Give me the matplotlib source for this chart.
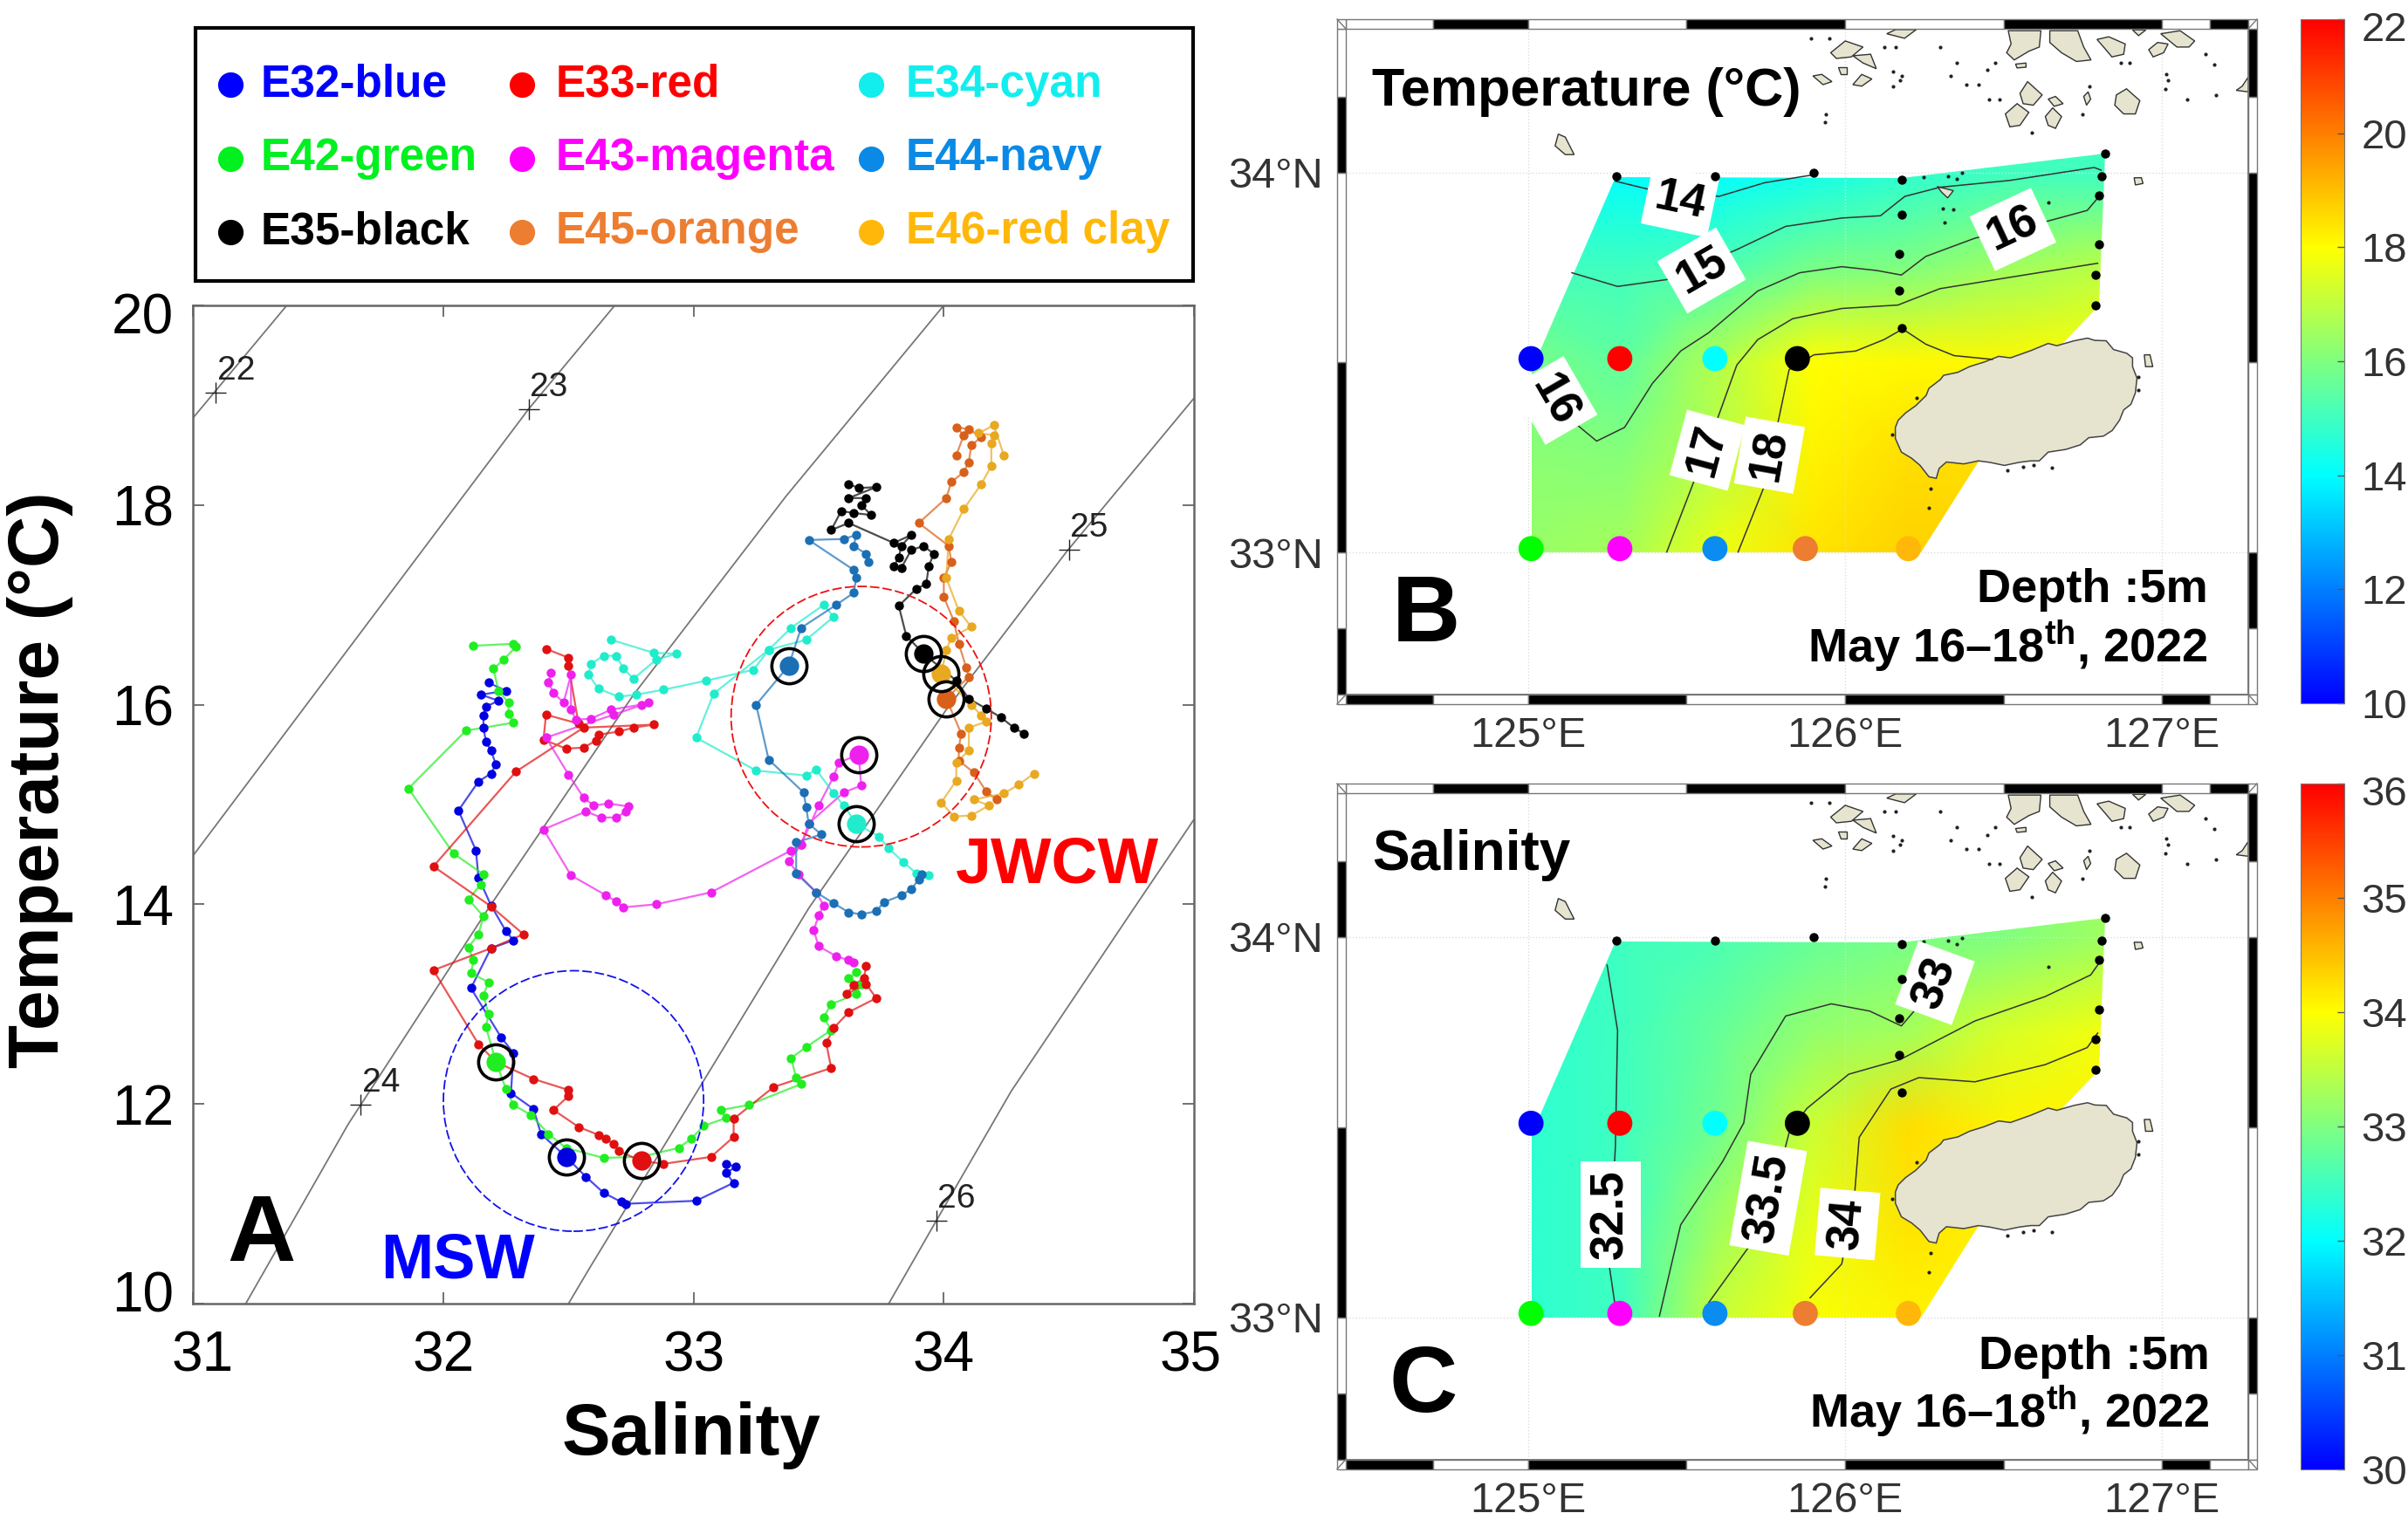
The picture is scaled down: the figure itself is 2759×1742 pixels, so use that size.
import matplotlib
matplotlib.use("Agg")
import matplotlib.pyplot as plt
from matplotlib.colors import LinearSegmentedColormap, Normalize
from matplotlib.patches import Ellipse, Polygon, Rectangle
from matplotlib.transforms import ScaledTranslation
import numpy as np

plt.rcParams['font.family'] = ['Liberation Sans', 'DejaVu Sans']
plt.rcParams['mathtext.fontset'] = 'custom'
plt.rcParams['mathtext.bf'] = 'Liberation Sans:bold'
plt.rcParams['mathtext.rm'] = 'Liberation Sans'

W, H = 2759, 1742

# ---- panel A: T-S tracks (salinity, temperature)
e32_s = [32.18,32.25,32.15,32.22,32.17,32.16,32.16,32.17,32.19,32.21,32.19,32.14,32.06,32.13,32.14,32.19,32.25,32.28,32.19,32.11,32.23,32.28,32.27,32.36,32.39,32.49,32.57,32.64,32.71,32.73,33.01,33.16,33.13,33.17,33.13]
e32_t = [16.22,16.14,16.10,16.04,15.98,15.89,15.77,15.63,15.54,15.40,15.31,15.23,14.94,14.54,14.27,13.99,13.73,13.64,13.56,13.16,12.67,12.51,12.11,11.95,11.70,11.47,11.27,11.11,11.02,11.00,11.03,11.21,11.31,11.37,11.40]

e42_s = [32.12,32.28,32.29,32.24,32.20,32.22,32.26,32.26,32.28,32.09,31.86,32.04,32.16,32.15,32.10,32.16,32.14,32.10,32.12,32.11,32.18,32.16,32.18,32.17,32.21,32.25,32.28,32.35,32.42,32.49,32.64,32.79,32.94,32.99,33.04,33.13,33.11,33.22,33.43,33.41,33.39,33.45,33.55,33.52,33.55,33.65,33.67,33.62,33.65]
e42_t = [16.59,16.61,16.58,16.45,16.36,16.14,16.02,15.91,15.82,15.74,15.16,14.51,14.30,14.20,14.05,13.88,13.70,13.57,13.44,13.31,13.22,13.09,12.90,12.77,12.42,12.15,11.99,11.89,11.70,11.56,11.46,11.47,11.56,11.65,11.78,11.86,11.94,11.99,12.20,12.26,12.46,12.57,12.74,12.87,13.00,13.10,13.20,13.26,13.32]

e33_s = [32.41,32.50,32.50,32.54,32.41,32.40,32.49,32.56,32.61,32.62,32.70,32.76,32.84,32.56,32.29,31.96,32.19,32.32,32.19,31.96,32.14,32.21,32.36,32.50,32.50,32.44,32.54,32.62,32.65,32.68,32.70,32.79,32.88,33.07,33.16,33.16,33.32,33.55,33.53,33.56,33.62,33.73,33.69,33.61,33.64,33.68,33.69]
e33_t = [16.56,16.47,16.39,15.81,15.90,15.65,15.56,15.57,15.64,15.70,15.73,15.77,15.80,15.77,15.33,14.38,13.98,13.70,13.56,13.34,12.60,12.42,12.25,12.14,12.08,11.94,11.77,11.69,11.65,11.60,11.53,11.43,11.40,11.47,11.67,11.85,12.17,12.36,12.61,12.76,12.92,13.06,13.20,13.10,13.19,13.26,13.38]

e43_s = [33.64,33.62,33.57,33.50,33.48,33.50,33.52,33.49,33.42,33.38,33.43,33.50,33.56,33.58,33.66,33.67,33.60,33.46,33.43,33.39,33.07,32.85,32.72,32.69,32.65,32.51,32.40,32.57,32.63,32.69,32.73,32.74,32.66,32.60,32.56,32.50,32.41,32.68,32.82,32.79,32.67,32.59,32.53,32.51,32.51,32.48,32.44,32.42,32.43]
e43_t = [13.42,13.44,13.48,13.58,13.74,13.89,13.99,14.12,14.30,14.43,14.60,14.99,15.28,15.42,15.50,15.19,15.12,14.81,14.60,14.54,14.12,14.00,13.97,14.03,14.09,14.29,14.75,14.93,14.87,14.87,14.93,14.98,15.01,14.99,15.07,15.30,15.67,15.90,16.02,16.00,15.95,15.86,15.85,15.95,16.30,16.02,16.12,16.22,16.32]

e34_s = [32.67,32.84,32.93,32.85,32.76,32.72,32.69,32.64,32.59,32.58,32.62,32.70,32.77,32.88,33.05,33.24,33.30,33.39,33.52,33.56,33.45,33.30,33.08,33.01,33.25,33.45,33.49,33.56,33.60,33.65,33.74,33.78,33.84,33.89,33.94]
e34_t = [16.65,16.52,16.51,16.45,16.26,16.36,16.49,16.49,16.41,16.30,16.16,16.08,16.10,16.15,16.24,16.35,16.55,16.77,17.00,16.88,16.65,16.55,16.11,15.67,15.34,15.29,15.35,15.11,14.99,14.81,14.68,14.56,14.42,14.31,14.29]

e44_s = [33.70,33.69,33.64,33.65,33.60,33.46,33.64,33.65,33.64,33.57,33.43,33.38,33.25,33.30,33.44,33.45,33.46,33.51,33.41,33.41,33.49,33.56,33.62,33.67,33.73,33.76,33.83,33.87,33.90,33.91]
e44_t = [17.43,17.51,17.59,17.70,17.66,17.65,17.35,17.27,17.12,17.00,16.77,16.39,16.00,15.45,15.12,14.97,14.81,14.70,14.62,14.31,14.12,14.01,13.92,13.90,13.93,14.02,14.09,14.15,14.25,14.30]

e35_s = [33.62,33.66,33.73,33.62,33.69,33.67,33.71,33.64,33.59,33.55,33.62,33.80,33.87,33.83,33.82,33.80,33.83,33.87,33.92,33.96,33.94,33.93,33.89,33.82,33.85,33.92,34.05,34.10,34.17,34.23,34.28,34.32]
e35_t = [18.21,18.17,18.18,18.07,18.07,18.00,17.90,17.92,17.94,17.75,17.82,17.62,17.70,17.59,17.47,17.39,17.37,17.55,17.59,17.51,17.39,17.21,17.16,16.99,16.69,16.51,16.24,16.06,15.96,15.87,15.77,15.71]

e45_s = [34.05,34.08,34.05,34.10,34.15,34.11,34.10,34.08,34.03,34.01,33.90,34.02,34.03,34.00,34.00,34.04,34.06,34.09,34.10,34.01,34.07,34.06,34.06,34.12,34.17,34.21]
e45_t = [18.50,18.70,18.78,18.76,18.68,18.60,18.43,18.33,18.23,18.07,17.82,17.59,17.43,17.27,17.08,16.84,16.61,16.37,16.28,16.06,15.71,15.57,15.44,15.32,15.13,15.05]

e46_s = [34.24,34.20,34.14,34.20,34.19,34.19,34.15,34.08,34.02,34.01,34.06,34.11,34.03,34.01,33.99,34.11,34.15,34.17,34.10,34.10,34.05,34.05,33.99,34.04,34.11,34.18,34.12,34.24,34.30,34.36]
e46_t = [18.50,18.80,18.72,18.70,18.62,18.39,18.21,17.96,17.66,17.27,16.94,16.78,16.67,16.55,16.31,16.00,15.89,15.83,15.77,15.54,15.42,15.24,15.02,14.88,14.89,14.99,15.05,15.11,15.20,15.31]

# 5 m values, the big ringed dots
surf_names = ['E32', 'E33', 'E34', 'E42', 'E43', 'E44', 'E35', 'E45', 'E46']
surf_s = [32.49, 32.79, 33.65, 32.21, 33.66, 33.38, 33.92, 34.01, 33.99]
surf_t = [11.47, 11.43, 14.81, 12.42, 15.50, 16.39, 16.51, 16.06, 16.31]
track_col = {'E32': '#0000e0', 'E33': '#e01010', 'E34': '#20eccc', 'E42': '#20ee20', 'E43': '#ee20ee',
             'E44': '#1b6fb5', 'E35': '#000000', 'E45': '#d8601a', 'E46': '#e8a820'}
tracks = {'E32': (e32_s, e32_t), 'E42': (e42_s, e42_t), 'E33': (e33_s, e33_t), 'E43': (e43_s, e43_t),
          'E34': (e34_s, e34_t), 'E44': (e44_s, e44_t), 'E45': (e45_s, e45_t), 'E46': (e46_s, e46_t),
          'E35': (e35_s, e35_t)}

# isopycnals
sig22_s, sig22_t = [31.0, 31.374], [18.875, 20.0]
sig23_s, sig23_t = [31.0, 32.34, 32.685], [14.49, 18.96, 20.0]
sig24_s, sig24_t = [31.21, 31.62, 32.18, 32.76, 33.37, 34.0], [10.0, 11.8, 13.96, 16.10, 18.09, 20.0]
sig25_s, sig25_t = [32.50, 32.59, 33.46, 34.01, 34.49, 35.0], [10.0, 10.38, 13.96, 15.95, 17.53, 19.07]
sig26_s, sig26_t = [33.78, 33.97, 34.27, 34.76, 35.0], [10.0, 10.83, 12.13, 13.96, 14.85]
sig_lab = ['22', '23', '24', '25', '26']
sig_lab_s = [31.09, 32.34, 31.67, 34.50, 33.97]
sig_lab_t = [19.13, 18.96, 11.99, 17.55, 10.83]

legend_names = ['E32-blue', 'E33-red', 'E34-cyan', 'E42-green', 'E43-magenta', 'E44-navy', 'E35-black', 'E45-orange', 'E46-red clay']
legend_cols = ['#0000ff', '#ff0000', '#12eeee', '#00f020', '#ff00ff', '#0a8ae6', '#000000', '#ed7d31', '#ffb80a']

# ---- panels B and C: maps
grid_lon = [124.9, 125.3, 125.6, 125.9, 126.2, 126.5, 126.9]
grid_lat = [33.0, 33.25, 33.5, 33.75, 34.0, 34.06]
temp_grid = [[16.3, 16.6, 17.7, 18.4, 18.7, 18.7, 18.6],
             [16.2, 16.1, 16.9, 18.2, 18.5, 18.5, 18.4],
             [16.0, 15.5, 16.8, 18.0, 18.1, 18.1, 18.0],
             [15.0, 15.0, 15.2, 15.9, 16.0, 16.5, 17.0],
             [14.3, 14.0, 14.0, 14.3, 14.7, 15.0, 15.0],
             [14.3, 14.0, 14.1, 14.4, 14.8, 15.1, 15.0]]
salt_grid = [[32.3, 32.5, 33.55, 33.95, 34.1, 34.1, 34.1],
             [32.3, 32.5, 33.25, 33.8, 34.2, 34.1, 34.1],
             [32.3, 32.5, 32.9, 33.6, 34.25, 34.1, 34.1],
             [32.3, 32.5, 32.8, 33.15, 33.3, 33.7, 33.95],
             [32.3, 32.5, 32.6, 32.8, 32.95, 33.0, 33.3],
             [32.3, 32.5, 32.6, 32.8, 32.95, 33.0, 33.3]]

field_lon = [125.276, 126.18, 126.82, 126.80, 126.686, 126.41, 126.24, 125.013, 125.013]
field_lat = [33.988, 33.985, 34.05, 33.65, 33.55, 33.226, 33.0, 33.0, 33.48]

stn_lon = [125.28, 125.59, 125.90, 126.18, 126.18, 126.17, 126.17, 126.18, 126.82, 126.81, 126.80, 126.80, 126.79, 126.79]
stn_lat = [33.99, 33.99, 34.0, 33.98, 33.89, 33.785, 33.69, 33.59, 34.05, 33.99, 33.94, 33.81, 33.73, 33.65]
col_lon = [125.01, 125.29, 125.59, 125.85, 125.01, 125.29, 125.59, 125.875, 126.2]
col_lat = [33.51, 33.51, 33.51, 33.51, 33.01, 33.01, 33.01, 33.01, 33.01]
col_dot = ['#0000ff', '#ff0000', '#00ffff', '#000000', '#00ff00', '#ff00ff', '#0a8cf0', '#ed7d31', '#ffb80a']

jeju_lon = [126.159,126.168,126.191,126.223,126.256,126.265,126.301,126.311,126.356,126.393,126.439,126.485,126.522,126.586,126.641,126.668,126.723,126.765,126.788,126.824,126.847,126.889,126.907,126.907,126.921,126.916,126.902,126.879,126.866,126.843,126.815,126.769,126.742,126.696,126.641,126.613,126.586,126.549,126.503,126.457,126.421,126.375,126.32,126.297,126.288,126.265,126.237,126.21,126.178,126.159,126.159]
jeju_lat = [33.329,33.348,33.367,33.386,33.413,33.432,33.455,33.466,33.474,33.489,33.501,33.516,33.512,33.531,33.55,33.544,33.557,33.564,33.558,33.557,33.534,33.524,33.512,33.489,33.459,33.42,33.39,33.375,33.348,33.321,33.306,33.302,33.283,33.271,33.264,33.241,33.241,33.237,33.229,33.237,33.241,33.233,33.238,33.221,33.195,33.199,33.229,33.248,33.264,33.30,33.313]

islands = [
    ([126.515,126.618,126.613,126.58,126.534,126.51,126.524], [34.373,34.373,34.33,34.319,34.296,34.315,34.338]),
    ([126.646,126.734,126.753,126.776,126.73,126.683,126.646], [34.373,34.373,34.33,34.296,34.292,34.315,34.342]),
    ([126.795,126.832,126.884,126.879,126.842,126.823], [34.35,34.357,34.338,34.311,34.304,34.323]),
    ([126.958,126.986,127.019,127.005,126.972], [34.323,34.342,34.338,34.315,34.304]),
    ([126.996,127.057,127.103,127.085,127.047], [34.365,34.373,34.346,34.33,34.33]),
    ([126.856,126.888,126.93,126.916,126.879,126.851], [34.204,34.22,34.189,34.154,34.154,34.177]),
    ([126.506,126.543,126.58,126.552,126.52], [34.154,34.181,34.158,34.124,34.12]),
    ([126.552,126.576,126.622,126.594,126.562], [34.208,34.239,34.204,34.177,34.181]),
    ([126.641,126.664,126.688,126.66], [34.193,34.2,34.181,34.174]),
    ([126.632,126.655,126.683,126.664,126.641], [34.147,34.17,34.147,34.116,34.124]),
    ([126.753,126.767,126.775,126.762], [34.2,34.212,34.193,34.177]),
    ([127.253,127.271,127.273,127.234], [34.227,34.25,34.212,34.216]),
    ([126.025,126.081,126.099,126.057], [34.307,34.311,34.273,34.288]),
    ([125.955,126.001,126.057,126.02,125.973], [34.315,34.346,34.33,34.304,34.30]),
    ([125.899,125.927,125.959,125.931], [34.254,34.258,34.239,34.231]),
    ([126.025,126.053,126.085,126.053], [34.231,34.258,34.246,34.227]),
    ([125.978,126.006,126.006,125.987], [34.277,34.277,34.258,34.258]),
    ([126.16,126.225,126.188,126.132], [34.376,34.376,34.353,34.365]),
    ([126.538,126.571,126.571,126.543], [34.285,34.288,34.277,34.275]),
    ([126.912,126.935,126.94,126.916], [33.986,33.986,33.971,33.967]),
    ([126.907,126.949,126.926], [34.375,34.375,34.36]),
    ([126.291,126.342,126.324,126.305], [33.963,33.952,33.933,33.948]),
    ([125.096,125.118,125.146,125.118,125.086], [34.101,34.093,34.047,34.047,34.07]),
    ([126.944,126.962,126.971,126.948], [33.52,33.52,33.489,33.489]),
]
speck_lon = [125.894,125.95,126.123,126.16,126.30,126.352,126.45,126.473,126.422,126.384,126.333,125.941,125.936,126.151,126.151,126.179,126.174,127.014,127.019,127.01,127.08,127.164,127.136,126.87,126.898,127.169,126.59,126.748,126.772,126.454,126.487,126.249,126.324,126.352,126.37,126.31,126.342,126.641,126.314,126.269,126.265,126.226,126.15,126.512,126.563,126.595,126.652,126.925,126.925]
speck_lat = [34.353,34.353,34.33,34.33,34.33,34.288,34.269,34.288,34.231,34.231,34.254,34.154,34.132,34.227,34.265,34.254,34.242,34.258,34.242,34.22,34.193,34.285,34.311,34.288,34.288,34.204,34.105,34.154,34.227,34.193,34.193,33.988,33.99,33.982,33.998,33.906,33.902,33.921,33.868,33.168,33.118,33.407,33.31,33.215,33.225,33.229,33.223,33.462,33.427]

# isolines, temperature
t14 = ([125.276,125.404,125.603,125.747,125.902], [33.977,33.951,33.937,33.973,33.994])
t15 = ([125.139,125.283,125.438,125.659,125.813,125.99,126.112,126.189,126.30,126.52,126.786,126.808], [33.736,33.70,33.718,33.797,33.858,33.88,33.886,33.937,33.961,33.979,34.013,34.006])
t16 = ([125.018,125.139,125.217,125.305,125.393,125.482,125.57,125.725,125.857,125.99,126.10,126.178,126.255,126.41,126.631,126.764,126.808], [33.469,33.347,33.293,33.329,33.445,33.53,33.578,33.688,33.736,33.752,33.742,33.73,33.779,33.827,33.87,33.90,33.943])
t17 = ([125.438,125.57,125.659,125.725,125.835,125.99,126.167,126.299,126.52,126.797], [33.001,33.287,33.493,33.56,33.615,33.642,33.651,33.694,33.724,33.761])
t18 = ([125.663,125.747,125.824,125.902,126.034,126.123,126.182,126.255,126.344,126.465], [33.001,33.177,33.481,33.52,33.53,33.56,33.588,33.548,33.518,33.508])
t_lab = ['14', '15', '16', '16', '17', '18']
t_lab_lon = [125.48, 125.548, 126.53, 125.084, 125.566, 125.762]
t_lab_lat = [33.925, 33.742, 33.85, 33.40, 33.269, 33.256]
t_lab_rot = [-12, 30, 25, -60, 75, 80]

# isolines, salinity
s325 = ([125.25,125.283,125.276,125.256,125.276], [33.926,33.754,33.447,33.14,33.026])
s33 = ([125.415,125.482,125.614,125.681,125.703,125.813,125.957,126.078,126.178,126.244], [33.003,33.243,33.409,33.511,33.639,33.792,33.824,33.805,33.766,33.83])
s335 = ([125.57,125.703,125.78,125.824,125.88,126.012,126.173,126.41,126.631,126.775,126.808], [33.038,33.192,33.345,33.485,33.549,33.639,33.677,33.779,33.843,33.90,33.939])
s34 = ([125.89,125.99,126.03,126.045,126.145,126.233,126.41,126.631,126.764,126.797], [33.051,33.14,33.319,33.473,33.60,33.63,33.619,33.664,33.709,33.747])
s_lab = ['32.5', '33.5', '34', '33']
s_lab_lon = [125.26, 125.758, 126.008, 126.284]
s_lab_lat = [33.27, 33.313, 33.245, 33.879]
s_lab_rot = [90, 80, 85, 70]

cm = LinearSegmentedColormap.from_list('jetish', ['#0000ff', '#00ffff', '#ffff00', '#ff0000'])


def px_axes(fig, x0, y0, x1, y1):
    return fig.add_axes([x0 / W, 1 - y1 / H, (x1 - x0) / W, (y1 - y0) / H])


def nudge(label, dx, dy):
    label.set_transform(label.get_transform() + ScaledTranslation(dx / 72, dy / 72, fig.dpi_scale_trans))


fig = plt.figure(figsize=(W / 100, H / 100), dpi=100, facecolor='white')

# ------------------------------------------------------------------ panel A
ax = px_axes(fig, 221.4, 350, 1368, 1494)
ax.set_xlim(31, 35)
ax.set_ylim(10, 20)
for ss, tt in [(sig22_s, sig22_t), (sig23_s, sig23_t), (sig24_s, sig24_t), (sig25_s, sig25_t), (sig26_s, sig26_t)]:
    ax.plot(ss, tt, color='#777777', lw=1.3, zorder=1)
ax.plot(sig_lab_s, sig_lab_t, '+', color='#222222', ms=17, mew=1.0, zorder=2)
for lab, ss, tt in zip(sig_lab, sig_lab_s, sig_lab_t):
    ax.annotate(lab, (ss, tt), xytext=(1, 5), textcoords='offset points', fontsize=28, color='#222222', ha='left', va='bottom')
for name, (ss, tt) in tracks.items():
    c = track_col[name]
    ax.plot(ss, tt, '-', color=c, lw=1.6, alpha=0.7, zorder=3)
    ax.plot(ss, tt, 'o', color=c, ms=7.5, mew=0, zorder=4)
ax.add_patch(Ellipse((33.67, 15.88), 1.04, 2.61, fill=False, ec='#ee1111', ls=(0, (6, 2)), lw=1.3, zorder=5))
ax.add_patch(Ellipse((32.52, 12.03), 1.04, 2.61, fill=False, ec='#1111ee', ls=(0, (6, 2)), lw=1.3, zorder=5))
for name, ss, tt in zip(surf_names, surf_s, surf_t):
    ax.plot(ss, tt, 'o', color=track_col[name], ms=16, mew=0, zorder=6)
    ax.plot(ss, tt, 'o', mfc='none', mec='black', ms=29, mew=2.6, zorder=7)
ax.set_xticks([31, 32, 33, 34, 35])
ax.set_yticks([10, 12, 14, 16, 18, 20])
ax.tick_params(direction='in', top=True, right=True, length=9.5, width=1.3, color='#666666', labelsize=46)
ax.tick_params(axis='x', pad=22)
ax.tick_params(axis='y', pad=16)
for sp in ax.spines.values():
    sp.set_color('#666666')
    sp.set_linewidth(1.8)
nudge(ax.get_yticklabels()[0], 0, 10)
nudge(ax.get_yticklabels()[-1], 0, -6.5)
nudge(ax.get_xticklabels()[0], 8, 0)
nudge(ax.get_xticklabels()[-1], -2.5, 0)

# ------------------------------------------------------------------ maps
XL = (124.426, 127.272)
YL = (32.626, 34.378)


def draw_map(x0, y0, y1, grid, vmin, vmax, lines, labs, lab_lon, lab_lat, lab_rot):
    a = px_axes(fig, x0, y0, 2576, y1)
    a.set_xlim(*XL)
    a.set_ylim(*YL)
    norm = Normalize(vmin, vmax)
    pm = a.pcolormesh(grid_lon, grid_lat, np.array(grid), cmap=cm, norm=norm, shading='gouraud', zorder=1)
    clip = Polygon(np.column_stack([field_lon, field_lat]), transform=a.transData)
    pm.set_clip_path(clip)
    for lo, la in islands:
        a.add_patch(Polygon(np.column_stack([lo, la]), fc='#e6e4cf', ec='#333333', lw=1.0, zorder=2))
    a.add_patch(Polygon(np.column_stack([jeju_lon, jeju_lat]), fc='#e6e4cf', ec='#444444', lw=1.1, zorder=2))
    a.plot(speck_lon, speck_lat, 'o', color='#222222', ms=3, mew=0, zorder=2)
    for v in [125, 126, 127]:
        a.axvline(v, color='#dddddd', lw=1.0, ls=':', zorder=1.5)
    for v in [33, 34]:
        a.axhline(v, color='#dddddd', lw=1.0, ls=':', zorder=1.5)
    for lo, la in lines:
        a.plot(lo, la, color='#333333', lw=1.1, zorder=3)
    for lab, lo, la, rot in zip(labs, lab_lon, lab_lat, lab_rot):
        a.text(lo, la, lab, rotation=rot, rotation_mode='anchor', ha='center', va='center', fontsize=38, fontweight='bold',
               bbox=dict(fc='white', ec='none', pad=7), zorder=4)
    a.plot(stn_lon, stn_lat, 'o', color='black', ms=7.5, mew=0, zorder=5)
    a.scatter(col_lon, col_lat, c=col_dot, s=430, linewidths=0, zorder=6)
    a.set_xticks([125, 126, 127])
    a.set_xticklabels(['125°E', '126°E', '127°E'], fontsize=35, color='#333333')
    a.set_yticks([33, 34])
    a.set_yticklabels(['33°N', '34°N'], fontsize=35, color='#333333')
    a.tick_params(length=0)
    a.tick_params(axis='x', pad=18)
    a.tick_params(axis='y', pad=19)
    for sp in a.spines.values():
        sp.set_color('#777777')
        sp.set_linewidth(1.4)
    # black and white frame, breaks in lon/lat
    dx = 10 / 363.4
    dy = 11 / 435.7
    xb = [XL[0], 124.7, 125, 125.5, 126, 126.5, 127, 127.15, XL[1]]
    yb = [YL[0], 32.8, 33, 33.5, 34, 34.2, YL[1]]
    fr = dict(ec='#777777', lw=1.0, clip_on=False, zorder=8)
    for i in range(len(xb) - 1):
        top_black = i % 2 == 1
        a.add_patch(Rectangle((xb[i], YL[1]), xb[i + 1] - xb[i], dy, fc='black' if top_black else 'white', **fr))
        a.add_patch(Rectangle((xb[i], YL[0] - dy), xb[i + 1] - xb[i], dy, fc='white' if top_black else 'black', **fr))
    for i in range(len(yb) - 1):
        left_black = i % 2 == 0
        a.add_patch(Rectangle((XL[0] - dx, yb[i]), dx, yb[i + 1] - yb[i], fc='black' if left_black else 'white', **fr))
        a.add_patch(Rectangle((XL[1], yb[i]), dx, yb[i + 1] - yb[i], fc='white' if left_black else 'black', **fr))
    for cx, cy, sx, sy in [(XL[0] - dx, YL[0] - dy, 1, 1), (XL[1], YL[0] - dy, -1, 1), (XL[0] - dx, YL[1], 1, -1), (XL[1], YL[1], -1, -1)]:
        a.add_patch(Rectangle((cx, cy), dx, dy, fc='white', **fr))
        x_in = cx + dx if sx > 0 else cx
        x_out = cx if sx > 0 else cx + dx
        y_in = cy + dy if sy > 0 else cy
        y_out = cy if sy > 0 else cy + dy
        a.plot([x_out, x_in], [y_out, y_in], color='#777777', lw=1.0, clip_on=False, zorder=9)
    a.set_xlim(*XL)
    a.set_ylim(*YL)
    return pm


pm_b = draw_map(1542, 33, 796, temp_grid, 10, 22, [t14, t15, t16, t17, t18], t_lab, t_lab_lon, t_lab_lat, t_lab_rot)
pm_c = draw_map(1542, 909, 1672.6, salt_grid, 30, 36, [s325, s33, s335, s34], s_lab, s_lab_lon, s_lab_lat, s_lab_rot)

for pm, y0, y1, ticks in [(pm_b, 22, 806, [10, 12, 14, 16, 18, 20, 22]), (pm_c, 898, 1684, [30, 31, 32, 33, 34, 35, 36])]:
    cax = px_axes(fig, 2636, y0, 2686, y1)
    cb = fig.colorbar(pm, cax=cax, ticks=ticks)
    cb.ax.tick_params(direction='in', length=6, width=1.0, color='#555555', labelsize=34, labelcolor='#333333', pad=14)
    cb.outline.set_edgecolor('#777777')
    cb.outline.set_linewidth(0.8)
    nudge(cb.ax.get_yticklabels()[-1], 0, -6)

# ------------------------------------------------------------------ text and legend in pixel space
ov = fig.add_axes([0, 0, 1, 1], zorder=20)
ov.set_xlim(0, W)
ov.set_ylim(H, 0)
ov.axis('off')
ov.patch.set_alpha(0)

ov.add_patch(Rectangle((223.5, 32), 1143.5, 290, fc='white', ec='black', lw=3))
leg_x_dot = [264, 598, 998]
leg_x_txt = [299, 637, 1038]
leg_y = [97, 182, 266]
for i, (name, c) in enumerate(zip(legend_names, legend_cols)):
    col, row = i % 3, i // 3
    ov.plot(leg_x_dot[col], leg_y[row], 'o', color=c, ms=21, mew=0)
    ov.text(leg_x_txt[col], leg_y[row], name, color=c, fontsize=37, fontweight='bold', ha='left', va='center')

ov.text(792, 1645, 'Salinity', fontsize=60, fontweight='bold', ha='center', va='center')
ov.text(46, 894, 'Temperature (°C)', fontsize=59, fontweight='bold', rotation=90, ha='center', va='center')
ov.text(260, 1417, 'A', fontsize=78, fontweight='bold', ha='left', va='center')
ov.text(436, 1445, 'MSW', fontsize=52, fontweight='bold', color='#0000ff', ha='left', va='center')
ov.text(1095, 992, 'JWCW', fontsize=53, fontweight='bold', color='#ff0000', ha='left', va='center')

ov.text(1572, 106, 'Temperature (°C)', fontsize=44, fontweight='bold', ha='left', va='center')
ov.text(1595, 707, 'B', fontsize=78, fontweight='bold', ha='left', va='center')
ov.text(2530, 676, 'Depth :5m', fontsize=39, fontweight='bold', ha='right', va='center')
ov.text(2530, 740, r'May 16–18$^{\mathbf{th}}$, 2022', fontsize=39, fontweight='bold', ha='right', va='center')

ov.text(1572, 980, 'Salinity', fontsize=46, fontweight='bold', ha='left', va='center')
ov.text(1592, 1590, 'C', fontsize=78, fontweight='bold', ha='left', va='center')
ov.text(2532, 1555, 'Depth :5m', fontsize=39, fontweight='bold', ha='right', va='center')
ov.text(2532, 1617, r'May 16–18$^{\mathbf{th}}$, 2022', fontsize=39, fontweight='bold', ha='right', va='center')

fig.savefig('out.png', dpi=100)
